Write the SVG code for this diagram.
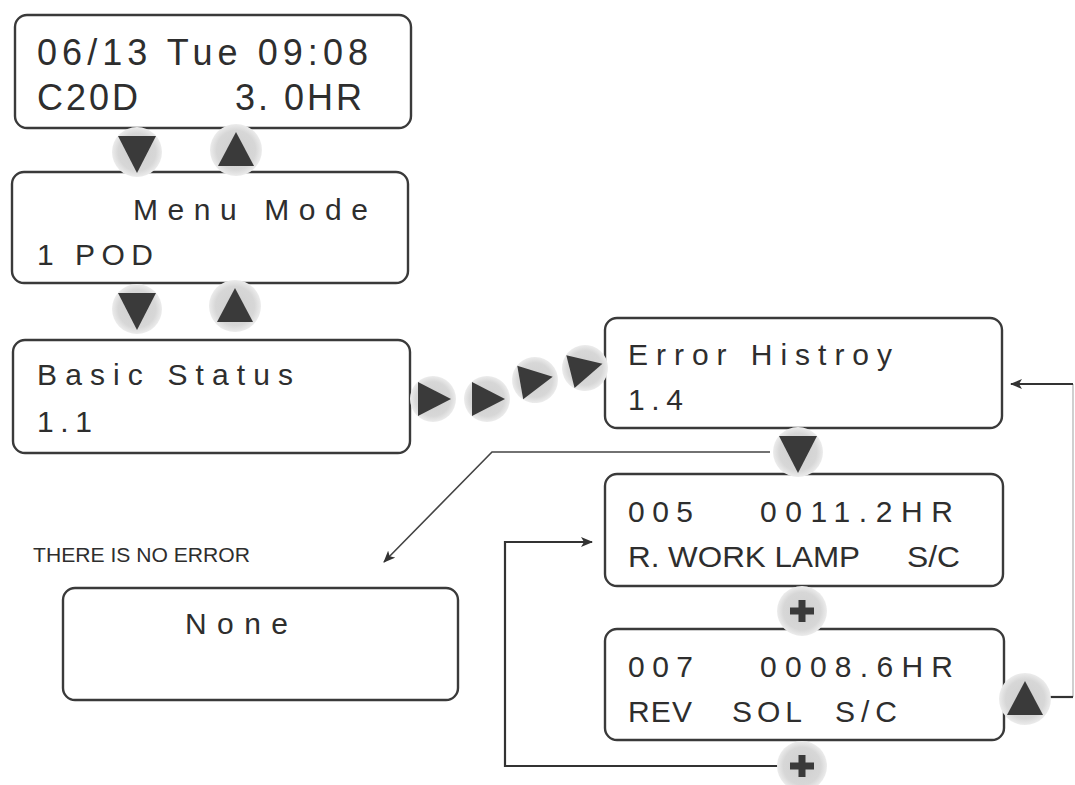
<svg xmlns="http://www.w3.org/2000/svg" width="1075" height="785" viewBox="0 0 1075 785">
  <defs>
    <style>
      .box{fill:#ffffff;stroke:#3a3a3a;stroke-width:2.4}
      .t{font-family:"Liberation Sans",Arial,sans-serif;font-size:30px;fill:#2e2e2e}
      .big{font-size:36px}
      .note{font-family:"Liberation Sans",Arial,sans-serif;font-size:21px;fill:#2e2e2e}
      .wire{fill:none;stroke:#333333;stroke-width:2.2}
      .wire2{fill:none;stroke:#444444;stroke-width:1.6}
      .faint{fill:none;stroke:#c4c4c4;stroke-width:1.6}
      .key{fill:#3a3a3a}
    </style>
    <radialGradient id="halo" cx="0.5" cy="0.5" r="0.5">
      <stop offset="0" stop-color="#cfcfcf"/>
      <stop offset="0.75" stop-color="#d7d7d7"/>
      <stop offset="1" stop-color="#ececec"/>
    </radialGradient>
    <marker id="ah" viewBox="0 0 12 10" refX="11" refY="5" markerWidth="12" markerHeight="10" markerUnits="userSpaceOnUse" orient="auto">
      <path d="M0,0 L12,5 L0,10 L3,5 Z" fill="#333333"/>
    </marker>
    <g id="k-down"><circle r="25" fill="url(#halo)"/><path class="key" d="M-19,-16 L19,-16 L0,21 Z"/></g>
    <g id="k-up"><circle r="26" fill="url(#halo)"/><path class="key" d="M-18,16 L18,16 L0,-18 Z"/></g>
    <g id="k-right"><circle r="23" fill="url(#halo)"/><path class="key" d="M-15,-17 L-15,17 L18,0 Z"/></g>
    <g id="k-plus"><circle r="25" fill="url(#halo)"/><path class="key" d="M-3.5,-11 H3.5 V-3.5 H12 V3.5 H3.5 V11 H-3.5 V3.5 H-12 V-3.5 H-3.5 Z"/></g>
  </defs>
  <rect width="1075" height="785" fill="#ffffff"/>

  <g id="node-clock">
    <rect class="box" x="15" y="15" width="396" height="113" rx="12"/>
    <text class="t big" x="37" y="65" textLength="331" lengthAdjust="spacing">06/13 Tue 09:08</text>
    <text class="t big" y="110"><tspan x="37" textLength="101" lengthAdjust="spacing">C20D</tspan><tspan x="235" textLength="127" lengthAdjust="spacing">3. 0HR</tspan></text>
  </g>

  <g id="node-menu">
    <rect class="box" x="12" y="172" width="396" height="111" rx="12"/>
    <text class="t" x="133" y="220" textLength="235" lengthAdjust="spacing">Menu Mode</text>
    <text class="t" x="37" y="265" textLength="116" lengthAdjust="spacing">1 POD</text>
  </g>

  <g id="node-basic">
    <rect class="box" x="13" y="340" width="397" height="113" rx="12"/>
    <text class="t" x="37" y="385" textLength="256" lengthAdjust="spacing">Basic Status</text>
    <text class="t" x="37" y="432" textLength="55" lengthAdjust="spacing">1.1</text>
  </g>

  <g id="node-error-history">
    <rect class="box" x="605" y="318" width="397" height="110" rx="12"/>
    <text class="t" x="628" y="365" textLength="264" lengthAdjust="spacing">Error Histroy</text>
    <text class="t" x="628" y="410" textLength="55" lengthAdjust="spacing">1.4</text>
  </g>

  <g id="node-err-005">
    <rect class="box" x="605" y="474" width="398" height="112" rx="12"/>
    <text class="t" x="628" y="522" textLength="65" lengthAdjust="spacing">005</text>
    <text class="t" x="760" y="522" textLength="193" lengthAdjust="spacing">0011.2HR</text>
    <text class="t" x="628" y="567" textLength="232" lengthAdjust="spacingAndGlyphs">R. WORK LAMP</text>
    <text class="t" x="907" y="567" textLength="53" lengthAdjust="spacingAndGlyphs">S/C</text>
  </g>

  <g id="node-err-007">
    <rect class="box" x="605" y="629" width="399" height="111" rx="12"/>
    <text class="t" x="628" y="677" textLength="65" lengthAdjust="spacing">007</text>
    <text class="t" x="760" y="677" textLength="193" lengthAdjust="spacing">0008.6HR</text>
    <text class="t" y="722"><tspan x="628" textLength="64" lengthAdjust="spacing">REV</tspan><tspan x="732" textLength="70" lengthAdjust="spacing">SOL</tspan><tspan x="835" textLength="62" lengthAdjust="spacing">S/C</tspan></text>
  </g>

  <g id="node-none">
    <text class="note" x="33" y="562" textLength="217" lengthAdjust="spacingAndGlyphs">THERE IS NO ERROR</text>
    <rect class="box" x="63" y="588" width="395" height="112" rx="12"/>
    <text class="t" x="185" y="634" textLength="103" lengthAdjust="spacing">None</text>
  </g>

  <g id="connectors">
    <path class="wire2" d="M770,452 L492,452 L384,562" marker-end="url(#ah)"/>
    <path class="wire" d="M780,766 L505,766 L505,542 L592,542" marker-end="url(#ah)"/>
    <path class="faint" d="M1073,697 L1073,384"/>
    <path class="wire" d="M1050,697 L1073,697"/>
    <path class="wire" d="M1073,384 L1011,384" marker-end="url(#ah)"/>
    <use href="#k-down" x="137" y="152"/>
    <use href="#k-up" x="236" y="150"/>
    <use href="#k-down" x="137" y="309"/>
    <use href="#k-up" x="235" y="306"/>
    <use href="#k-right" x="433" y="399"/>
    <use href="#k-right" x="487" y="399"/>
    <use href="#k-right" x="535" y="380" transform="rotate(-10 535 380)"/>
    <use href="#k-right" x="585" y="368" transform="rotate(-14 585 368)"/>
    <use href="#k-down" x="798" y="452"/>
    <use href="#k-plus" x="802" y="611"/>
    <use href="#k-plus" x="802" y="766"/>
    <use href="#k-up" x="1025" y="699"/>
  </g>
</svg>
